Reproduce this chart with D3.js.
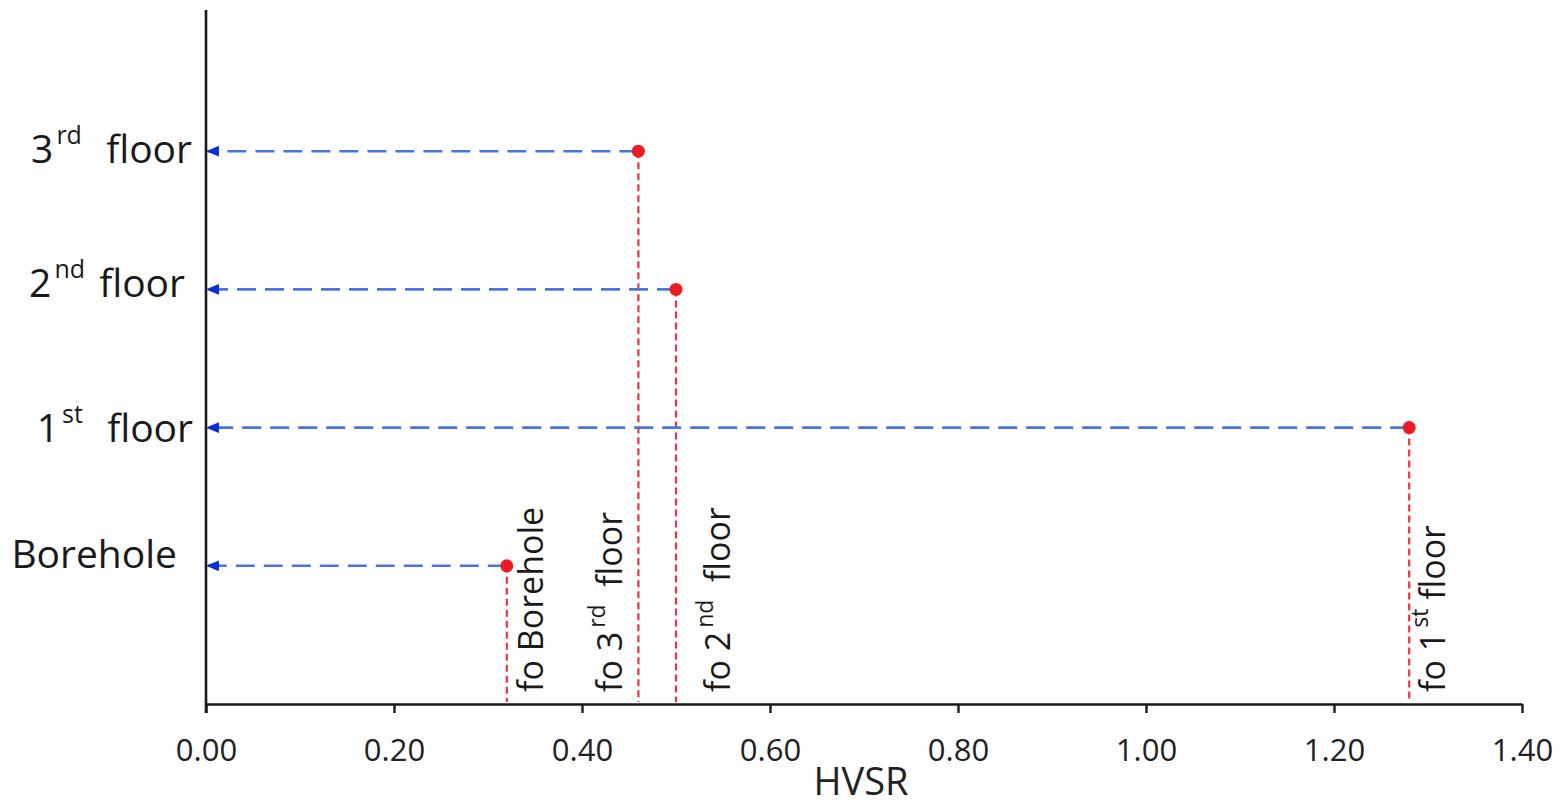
<!DOCTYPE html>
<html>
<head>
<meta charset="utf-8">
<script src="https://cdn.jsdelivr.net/npm/d3@7"></script>
<style>
  body { margin: 0; background: #fff; }
  svg { display: block; font-family: "Open Sans", sans-serif; }
</style>
</head>
<body>
<div id="chart"></div>
<script>
// values
const levels = ["Borehole", "1st floor", "2nd floor", "3rd floor"];
const levelNum = ["", "1", "2", "3"];
const levelSup = ["", "st", "nd", "rd"];
const levelRest = ["Borehole", "  floor", " floor", "  floor"];
const foRest = ["Borehole", " floor", "  floor", "  floor"];
const hvsr = [0.32, 1.28, 0.50, 0.46];
const xTicks = [0, 0.2, 0.4, 0.6, 0.8, 1.0, 1.2, 1.4];

// layout tweaks for the labels (pixels)
const leftLabelEnd = [177, 193, 185, 192];
const leftLabelDy = [2, 14, 8, 12];
const foLabelDx = [36, 36, 54, -16];

const width = 1561, height = 807;
const x0 = 206, x1 = 1522, yBottom = 704, yTop = 10;

const svg = d3.select("#chart").append("svg")
    .attr("width", width)
    .attr("height", height);

const x = d3.scaleLinear().domain([0, 1.4]).range([x0, x1]);
const y = d3.scaleLinear().domain([0, 5]).range([yBottom, 13]);

const defs = svg.append("defs");
defs.append("marker")
    .attr("id", "arrow")
    .attr("viewBox", "0 0 12 10")
    .attr("refX", 11)
    .attr("refY", 5)
    .attr("markerWidth", 13)
    .attr("markerHeight", 11)
    .attr("markerUnits", "userSpaceOnUse")
    .attr("orient", "auto")
    .append("path")
    .attr("d", "M12,5 L0,0 L0,10 Z")
    .attr("fill", "#0a2fd6");

// x axis
const xAxis = svg.append("g")
    .attr("transform", `translate(0,${yBottom})`)
    .call(d3.axisBottom(x).tickValues(xTicks).tickFormat(d3.format(".2f")).tickSize(9).tickSizeOuter(0));
xAxis.select(".domain").attr("stroke", "#1a1a1a").attr("stroke-width", 2.6);
xAxis.selectAll(".tick line").attr("stroke", "#1a1a1a").attr("stroke-width", 2.4);
xAxis.selectAll(".tick text")
    .attr("y", 57)
    .attr("dy", 0)
    .attr("fill", "#222")
    .style("font-size", "31px")
    .style("font-family", "'Open Sans', sans-serif");

// y axis line
svg.append("line")
    .attr("x1", x0).attr("x2", x0)
    .attr("y1", yTop).attr("y2", yBottom + 9)
    .attr("stroke", "#1a1a1a")
    .attr("stroke-width", 2.6);

svg.append("text")
    .attr("x", 861)
    .attr("y", 795)
    .attr("text-anchor", "middle")
    .attr("fill", "#222")
    .style("font-size", "38px")
    .text("HVSR");

const idx = d3.range(levels.length);

// red vertical dashed lines
svg.selectAll(".vline").data(idx).enter()
  .append("line")
    .attr("class", "vline")
    .attr("x1", i => x(hvsr[i])).attr("x2", i => x(hvsr[i]))
    .attr("y1", i => y(i + 1)).attr("y2", yBottom - 2)
    .attr("stroke", "#f0323c")
    .attr("stroke-width", 2.2)
    .attr("stroke-dasharray", "7,4");

// blue dashed arrows
svg.selectAll(".hline").data(idx).enter()
  .append("line")
    .attr("class", "hline")
    .attr("x1", i => x(hvsr[i])).attr("x2", x0 + 1)
    .attr("y1", i => y(i + 1)).attr("y2", i => y(i + 1))
    .attr("stroke", "#4a74e0")
    .attr("stroke-width", 2.6)
    .attr("stroke-dasharray", "19,9")
    .attr("marker-end", "url(#arrow)");

// points
svg.selectAll(".pt").data(idx).enter()
  .append("circle")
    .attr("class", "pt")
    .attr("cx", i => x(hvsr[i]))
    .attr("cy", i => y(i + 1))
    .attr("r", 6.5)
    .attr("fill", "#ec1c24");

// left labels
const lab = svg.selectAll(".lab").data(idx).enter()
  .append("text")
    .attr("class", "lab")
    .attr("x", i => leftLabelEnd[i])
    .attr("y", i => y(i + 1) + leftLabelDy[i])
    .attr("text-anchor", "end")
    .attr("fill", "#1a1a1a")
    .style("font-size", "39px")
    .style("white-space", "pre");
lab.each(function(i) {
  const t = d3.select(this);
  if (levelNum[i]) {
    t.append("tspan").text(levelNum[i]);
    t.append("tspan").attr("dx", 3).attr("dy", -19).style("font-size", "25px").text(levelSup[i]);
    t.append("tspan").attr("dx", 4).attr("dy", 19).text(levelRest[i]);
  } else {
    t.append("tspan").text(levelRest[i]);
  }
});

// rotated "fo" labels
const fo = svg.selectAll(".fo").data(idx).enter()
  .append("text")
    .attr("class", "fo")
    .attr("transform", i => `translate(${x(hvsr[i]) + foLabelDx[i]},${yBottom - 12}) rotate(-90)`)
    .attr("fill", "#1a1a1a")
    .style("font-size", "34px")
    .style("white-space", "pre");
fo.each(function(i) {
  const t = d3.select(this);
  if (levelNum[i]) {
    t.append("tspan").text("fo " + levelNum[i]);
    t.append("tspan").attr("dx", 4).attr("dy", -17).style("font-size", "23px").text(levelSup[i]);
    t.append("tspan").attr("dy", 17).text(foRest[i]);
  } else {
    t.append("tspan").text("fo " + foRest[i]);
  }
});
</script>
</body>
</html>
